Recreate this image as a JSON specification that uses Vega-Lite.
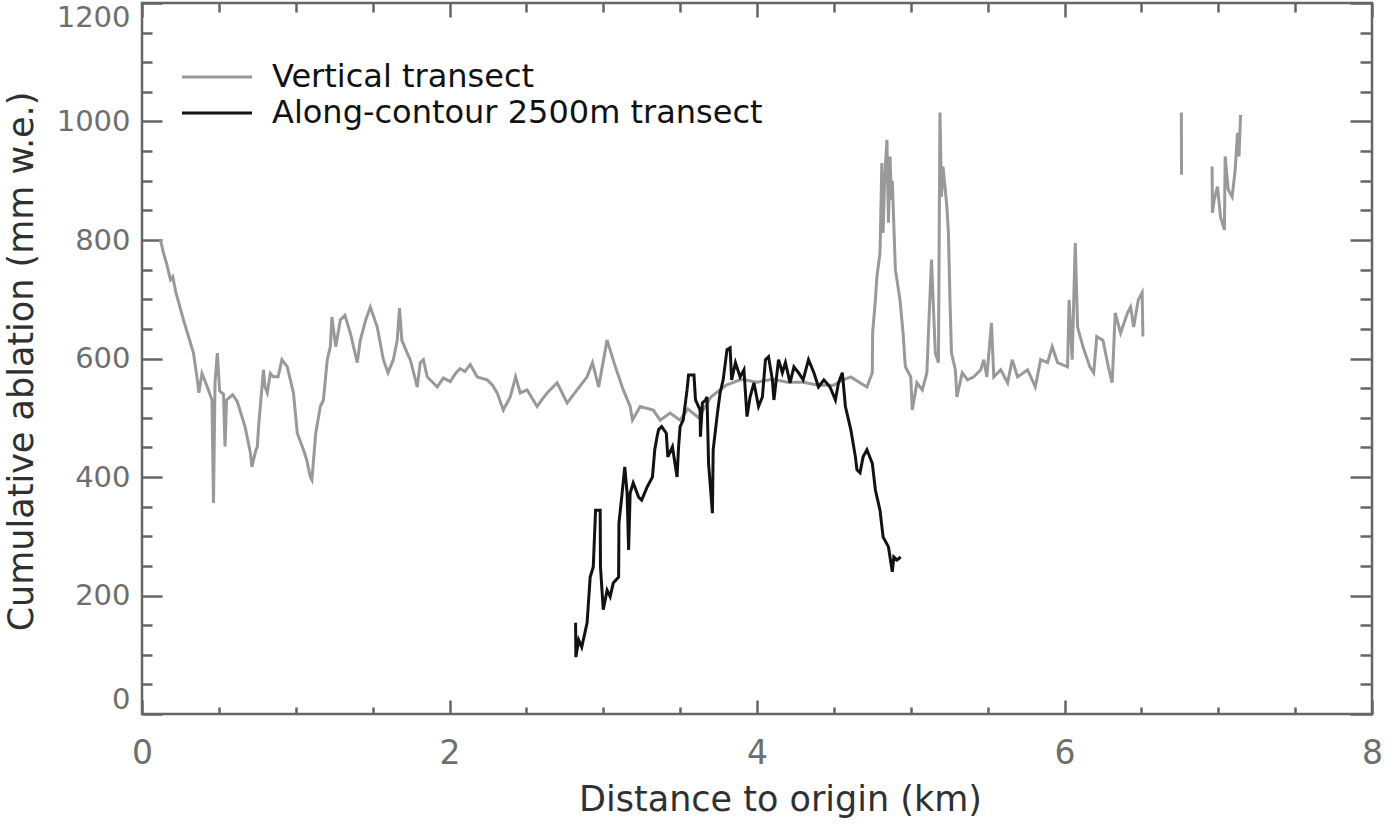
{
  "$schema": "https://vega.github.io/schema/vega-lite/v6.json",
  "width": 1230,
  "height": 711,
  "autosize": {"type": "none"},
  "padding": {"left": 142, "top": 3, "right": 28, "bottom": 110},
  "background": "white",
  "config": {
    "view": {"stroke": "#666666", "strokeWidth": 2.5},
    "axis": {"grid": false, "domain": false, "tickColor": "#666666", "tickWidth": 2.5, "labelFont": "DejaVu Sans", "labelColor": "#6e6e6e", "titleFont": "DejaVu Sans", "titleColor": "#303030", "titleFontWeight": "normal", "format": "d"},
    "legend": {
      "orient": "none", "legendX": 56, "legendY": 55, "padding": 0, "title": null,
      "labelFont": "DejaVu Sans", "labelFontSize": 32, "labelColor": "#111111", "labelLimit": 0,
      "symbolType": "M-2,0H2", "symbolSize": 1225, "symbolStrokeWidth": 3, "labelOffset": 36, "rowPadding": 1
    }
  },
  "datasets": {
    "vt": [
      {"d":0.12,"a":800,"s":1},{"d":0.14,"a":778,"s":1},{"d":0.16,"a":760,"s":1},{"d":0.185,"a":733,"s":1},{"d":0.2,"a":738,"s":1},{"d":0.22,"a":712,"s":1},{"d":0.27,"a":665,"s":1},{"d":0.335,"a":609,"s":1},{"d":0.36,"a":564,"s":1},{"d":0.37,"a":542,"s":1},{"d":0.39,"a":575,"s":1},{"d":0.425,"a":552,"s":1},{"d":0.455,"a":530,"s":1},{"d":0.465,"a":356,"s":1},{"d":0.475,"a":560,"s":1},{"d":0.49,"a":609,"s":1},{"d":0.505,"a":545,"s":1},{"d":0.53,"a":540,"s":1},{"d":0.54,"a":451,"s":1},{"d":0.55,"a":530,"s":1},{"d":0.59,"a":539,"s":1},{"d":0.62,"a":527,"s":1},{"d":0.67,"a":485,"s":1},{"d":0.705,"a":441,"s":1},{"d":0.715,"a":417,"s":1},{"d":0.74,"a":445,"s":1},{"d":0.75,"a":451,"s":1},{"d":0.76,"a":491,"s":1},{"d":0.79,"a":581,"s":1},{"d":0.8,"a":552,"s":1},{"d":0.815,"a":542,"s":1},{"d":0.835,"a":575,"s":1},{"d":0.855,"a":569,"s":1},{"d":0.885,"a":569,"s":1},{"d":0.91,"a":598,"s":1},{"d":0.945,"a":586,"s":1},{"d":0.985,"a":542,"s":1},{"d":1.01,"a":474,"s":1},{"d":1.05,"a":446,"s":1},{"d":1.07,"a":430,"s":1},{"d":1.095,"a":400,"s":1},{"d":1.105,"a":395,"s":1},{"d":1.13,"a":474,"s":1},{"d":1.16,"a":519,"s":1},{"d":1.18,"a":530,"s":1},{"d":1.205,"a":598,"s":1},{"d":1.225,"a":620,"s":1},{"d":1.235,"a":670,"s":1},{"d":1.26,"a":620,"s":1},{"d":1.29,"a":665,"s":1},{"d":1.32,"a":673,"s":1},{"d":1.355,"a":643,"s":1},{"d":1.4,"a":593,"s":1},{"d":1.42,"a":631,"s":1},{"d":1.455,"a":665,"s":1},{"d":1.485,"a":687,"s":1},{"d":1.53,"a":653,"s":1},{"d":1.57,"a":598,"s":1},{"d":1.6,"a":576,"s":1},{"d":1.635,"a":598,"s":1},{"d":1.66,"a":631,"s":1},{"d":1.675,"a":685,"s":1},{"d":1.69,"a":631,"s":1},{"d":1.725,"a":609,"s":1},{"d":1.745,"a":598,"s":1},{"d":1.79,"a":552,"s":1},{"d":1.81,"a":593,"s":1},{"d":1.83,"a":598,"s":1},{"d":1.855,"a":569,"s":1},{"d":1.89,"a":560,"s":1},{"d":1.92,"a":552,"s":1},{"d":1.96,"a":567,"s":1},{"d":2.005,"a":561,"s":1},{"d":2.04,"a":575,"s":1},{"d":2.07,"a":583,"s":1},{"d":2.1,"a":578,"s":1},{"d":2.135,"a":590,"s":1},{"d":2.18,"a":569,"s":1},{"d":2.245,"a":564,"s":1},{"d":2.28,"a":555,"s":1},{"d":2.31,"a":542,"s":1},{"d":2.35,"a":513,"s":1},{"d":2.395,"a":535,"s":1},{"d":2.43,"a":569,"s":1},{"d":2.46,"a":542,"s":1},{"d":2.505,"a":547,"s":1},{"d":2.57,"a":519,"s":1},{"d":2.6,"a":530,"s":1},{"d":2.635,"a":542,"s":1},{"d":2.7,"a":559,"s":1},{"d":2.765,"a":525,"s":1},{"d":2.83,"a":547,"s":1},{"d":2.895,"a":569,"s":1},{"d":2.93,"a":593,"s":1},{"d":2.97,"a":552,"s":1},{"d":3.025,"a":631,"s":1},{"d":3.07,"a":593,"s":1},{"d":3.13,"a":547,"s":1},{"d":3.175,"a":519,"s":1},{"d":3.19,"a":496,"s":1},{"d":3.24,"a":519,"s":1},{"d":3.325,"a":513,"s":1},{"d":3.37,"a":496,"s":1},{"d":3.435,"a":508,"s":1},{"d":3.5,"a":496,"s":1},{"d":3.55,"a":515,"s":1},{"d":3.62,"a":500,"s":1},{"d":3.7,"a":535,"s":1},{"d":3.8,"a":555,"s":1},{"d":3.9,"a":565,"s":1},{"d":4.0,"a":560,"s":1},{"d":4.1,"a":565,"s":1},{"d":4.2,"a":560,"s":1},{"d":4.3,"a":560,"s":1},{"d":4.4,"a":555,"s":1},{"d":4.5,"a":555,"s":1},{"d":4.56,"a":564,"s":1},{"d":4.61,"a":569,"s":1},{"d":4.67,"a":559,"s":1},{"d":4.715,"a":552,"s":1},{"d":4.75,"a":576,"s":1},{"d":4.752,"a":643,"s":1},{"d":4.77,"a":699,"s":1},{"d":4.78,"a":738,"s":1},{"d":4.8,"a":778,"s":1},{"d":4.812,"a":930,"s":1},{"d":4.82,"a":812,"s":1},{"d":4.83,"a":900,"s":1},{"d":4.845,"a":969,"s":1},{"d":4.855,"a":829,"s":1},{"d":4.865,"a":941,"s":1},{"d":4.875,"a":868,"s":1},{"d":4.88,"a":900,"s":1},{"d":4.9,"a":750,"s":1},{"d":4.93,"a":699,"s":1},{"d":4.95,"a":643,"s":1},{"d":4.965,"a":586,"s":1},{"d":5.0,"a":569,"s":1},{"d":5.01,"a":513,"s":1},{"d":5.04,"a":559,"s":1},{"d":5.075,"a":547,"s":1},{"d":5.105,"a":576,"s":1},{"d":5.115,"a":643,"s":1},{"d":5.135,"a":767,"s":1},{"d":5.15,"a":670,"s":1},{"d":5.16,"a":609,"s":1},{"d":5.18,"a":593,"s":1},{"d":5.19,"a":1015,"s":1},{"d":5.2,"a":873,"s":1},{"d":5.21,"a":924,"s":1},{"d":5.235,"a":856,"s":1},{"d":5.245,"a":812,"s":1},{"d":5.255,"a":699,"s":1},{"d":5.265,"a":609,"s":1},{"d":5.29,"a":581,"s":1},{"d":5.3,"a":535,"s":1},{"d":5.335,"a":576,"s":1},{"d":5.37,"a":564,"s":1},{"d":5.41,"a":569,"s":1},{"d":5.455,"a":581,"s":1},{"d":5.475,"a":598,"s":1},{"d":5.495,"a":569,"s":1},{"d":5.525,"a":660,"s":1},{"d":5.54,"a":569,"s":1},{"d":5.585,"a":581,"s":1},{"d":5.63,"a":559,"s":1},{"d":5.66,"a":598,"s":1},{"d":5.695,"a":569,"s":1},{"d":5.76,"a":581,"s":1},{"d":5.81,"a":552,"s":1},{"d":5.845,"a":598,"s":1},{"d":5.89,"a":593,"s":1},{"d":5.92,"a":620,"s":1},{"d":5.955,"a":593,"s":1},{"d":6.02,"a":586,"s":1},{"d":6.03,"a":699,"s":1},{"d":6.05,"a":598,"s":1},{"d":6.07,"a":795,"s":1},{"d":6.085,"a":653,"s":1},{"d":6.12,"a":620,"s":1},{"d":6.165,"a":586,"s":1},{"d":6.19,"a":576,"s":1},{"d":6.21,"a":637,"s":1},{"d":6.25,"a":631,"s":1},{"d":6.285,"a":586,"s":1},{"d":6.31,"a":559,"s":1},{"d":6.33,"a":677,"s":1},{"d":6.365,"a":643,"s":1},{"d":6.41,"a":677,"s":1},{"d":6.43,"a":687,"s":1},{"d":6.45,"a":653,"s":1},{"d":6.48,"a":699,"s":1},{"d":6.505,"a":711,"s":1},{"d":6.51,"a":637,"s":1},
      {"d":6.76,"a":1015,"s":2},{"d":6.761,"a":910,"s":2},
      {"d":6.96,"a":924,"s":3},{"d":6.962,"a":846,"s":3},{"d":6.975,"a":870,"s":3},{"d":6.995,"a":890,"s":3},{"d":7.015,"a":839,"s":3},{"d":7.04,"a":817,"s":3},{"d":7.045,"a":941,"s":3},{"d":7.065,"a":885,"s":3},{"d":7.09,"a":873,"s":3},{"d":7.11,"a":918,"s":3},{"d":7.125,"a":981,"s":3},{"d":7.135,"a":941,"s":3},{"d":7.145,"a":1011,"s":3}
    ],
    "ac": [
      {"d":2.82,"a":154},{"d":2.822,"a":96},{"d":2.84,"a":125},{"d":2.86,"a":113},{"d":2.895,"a":154},{"d":2.915,"a":231},{"d":2.935,"a":248},{"d":2.95,"a":344},{"d":2.98,"a":344},{"d":2.982,"a":248},{"d":3.0,"a":176},{"d":3.025,"a":209},{"d":3.045,"a":198},{"d":3.065,"a":221},{"d":3.1,"a":231},{"d":3.102,"a":322},{"d":3.12,"a":366},{"d":3.14,"a":417},{"d":3.155,"a":373},{"d":3.165,"a":277},{"d":3.175,"a":373},{"d":3.195,"a":390},{"d":3.23,"a":366},{"d":3.25,"a":361},{"d":3.285,"a":383},{"d":3.32,"a":400},{"d":3.335,"a":446},{"d":3.35,"a":468},{"d":3.36,"a":480},{"d":3.38,"a":485},{"d":3.41,"a":474},{"d":3.42,"a":434},{"d":3.45,"a":451},{"d":3.48,"a":400},{"d":3.49,"a":451},{"d":3.5,"a":485},{"d":3.52,"a":496},{"d":3.545,"a":547},{"d":3.555,"a":572},{"d":3.59,"a":572},{"d":3.6,"a":530},{"d":3.63,"a":513},{"d":3.632,"a":468},{"d":3.645,"a":525},{"d":3.665,"a":530},{"d":3.675,"a":535},{"d":3.685,"a":423},{"d":3.71,"a":339},{"d":3.715,"a":446},{"d":3.74,"a":502},{"d":3.76,"a":542},{"d":3.78,"a":564},{"d":3.805,"a":615},{"d":3.825,"a":618},{"d":3.835,"a":564},{"d":3.86,"a":593},{"d":3.89,"a":569},{"d":3.915,"a":581},{"d":3.935,"a":502},{"d":3.955,"a":535},{"d":3.98,"a":559},{"d":4.01,"a":519},{"d":4.035,"a":535},{"d":4.055,"a":598},{"d":4.075,"a":603},{"d":4.1,"a":564},{"d":4.11,"a":530},{"d":4.14,"a":598},{"d":4.165,"a":576},{"d":4.185,"a":593},{"d":4.215,"a":559},{"d":4.24,"a":586},{"d":4.27,"a":576},{"d":4.3,"a":564},{"d":4.335,"a":598},{"d":4.37,"a":576},{"d":4.4,"a":552},{"d":4.435,"a":564},{"d":4.475,"a":552},{"d":4.51,"a":530},{"d":4.53,"a":559},{"d":4.555,"a":576},{"d":4.575,"a":519},{"d":4.61,"a":480},{"d":4.64,"a":434},{"d":4.65,"a":412},{"d":4.67,"a":407},{"d":4.69,"a":434},{"d":4.715,"a":446},{"d":4.75,"a":423},{"d":4.77,"a":378},{"d":4.8,"a":344},{"d":4.82,"a":299},{"d":4.855,"a":282},{"d":4.88,"a":240},{"d":4.89,"a":265},{"d":4.91,"a":260},{"d":4.935,"a":265}
    ]
  },
  "layer": [
    {
      "data": {"name": "vt"},
      "mark": {"type": "line", "strokeWidth": 3},
      "encoding": {
        "x": {"field": "d", "type": "quantitative", "scale": {"domain": [0, 8], "nice": false, "zero": false},
          "axis": {"orient": "bottom", "values": [0, 2, 4, 6, 8], "tickSize": -14, "labelFontSize": 33, "labelBaseline": "alphabetic", "labelPadding": 63, "labelFlush": false,
            "title": "Distance to origin (km)", "titleFontSize": 35, "titleX": 638, "titleY": 96, "titleBaseline": "alphabetic", "titleAnchor": "middle", "titleAlign": "center"}},
        "y": {"field": "a", "type": "quantitative", "scale": {"domain": [0, 1200], "nice": false},
          "axis": {"orient": "left", "values": [0, 200, 400, 600, 800, 1000, 1200], "tickSize": -20, "labelFontSize": 29, "labelPadding": 32, "labelFlush": true,
            "title": "Cumulative ablation (mm w.e.)", "titleFontSize": 35, "titleX": -110, "titleY": 358, "titleAngle": 270, "titleBaseline": "alphabetic", "titleAlign": "center"}},
        "detail": {"field": "s", "type": "nominal"},
        "color": {"datum": "Vertical transect", "type": "nominal", "scale": {"domain": ["Vertical transect", "Along-contour 2500m transect"], "range": ["#999999", "#121212"]}}
      }
    },
    {
      "data": {"name": "ac"},
      "mark": {"type": "line", "strokeWidth": 3},
      "encoding": {
        "x": {"field": "d", "type": "quantitative", "scale": {"domain": [0, 8], "nice": false, "zero": false},
          "axis": {"orient": "bottom", "values": [0.5, 1, 1.5, 2.5, 3, 3.5, 4.5, 5, 5.5, 6.5, 7, 7.5], "tickSize": -7, "labels": false, "title": null}},
        "y": {"field": "a", "type": "quantitative", "scale": {"domain": [0, 1200], "nice": false},
          "axis": {"orient": "left", "values": [50, 100, 150, 250, 300, 350, 450, 500, 550, 650, 700, 750, 850, 900, 950, 1050, 1100, 1150], "tickSize": -10, "labels": false, "title": null}},
        "color": {"datum": "Along-contour 2500m transect", "type": "nominal"}
      }
    },
    {
      "data": {"name": "ac"},
      "mark": {"type": "line", "opacity": 0},
      "encoding": {
        "x": {"field": "d", "type": "quantitative", "scale": {"domain": [0, 8], "nice": false, "zero": false},
          "axis": {"orient": "top", "values": [0, 2, 4, 6, 8], "tickSize": -14, "labels": false, "title": null}},
        "y": {"field": "a", "type": "quantitative", "scale": {"domain": [0, 1200], "nice": false},
          "axis": {"orient": "right", "values": [0, 200, 400, 600, 800, 1000, 1200], "tickSize": -22, "labels": false, "title": null}}
      }
    },
    {
      "data": {"name": "ac"},
      "mark": {"type": "line", "opacity": 0},
      "encoding": {
        "x": {"field": "d", "type": "quantitative", "scale": {"domain": [0, 8], "nice": false, "zero": false},
          "axis": {"orient": "top", "values": [0.5, 1, 1.5, 2.5, 3, 3.5, 4.5, 5, 5.5, 6.5, 7, 7.5], "tickSize": -9, "labels": false, "title": null}},
        "y": {"field": "a", "type": "quantitative", "scale": {"domain": [0, 1200], "nice": false},
          "axis": {"orient": "right", "values": [50, 100, 150, 250, 300, 350, 450, 500, 550, 650, 700, 750, 850, 900, 950, 1050, 1100, 1150], "tickSize": -12, "labels": false, "title": null}}
      }
    }
  ],
  "resolve": {"axis": {"x": "independent", "y": "independent"}}
}
